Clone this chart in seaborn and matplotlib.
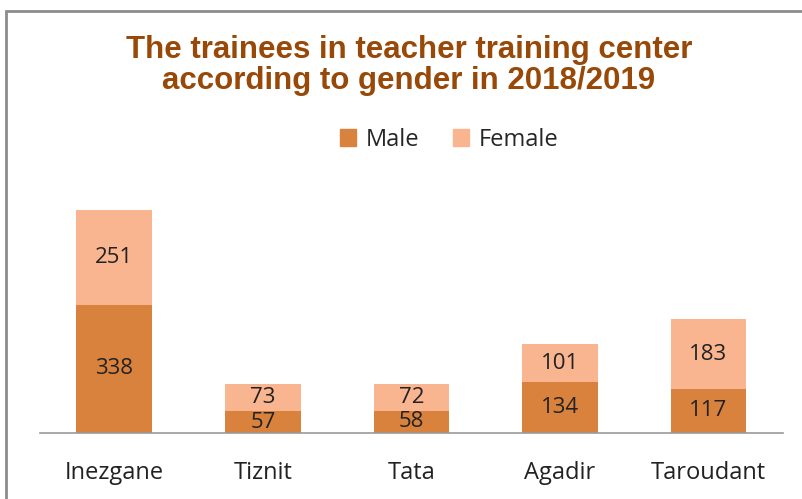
import matplotlib
matplotlib.use("Agg")
import matplotlib.pyplot as plt
import seaborn as sns
import pandas as pd
from matplotlib.patches import Patch, Rectangle

# chart data
centers = ["Inezgane", "Tiznit", "Tata", "Agadir", "Taroudant"]
male = [338, 57, 58, 134, 117]
female = [251, 73, 72, 101, 183]

male_color = "#D9823D"
female_color = "#F9B490"
title_color = "#984807"

df = pd.DataFrame({"center": centers, "Male": male, "Female": female})
df["Total"] = df["Male"] + df["Female"]

sns.set_theme(style="white")
plt.rcParams["font.family"] = ["Open Sans", "DejaVu Sans"]

fig = plt.figure(figsize=(8.02, 4.99), dpi=100)
ax = fig.add_axes([0.05, 0.1323, 0.926, 0.507])

# stacked: total bar in female colour, male bar over it
sns.barplot(data=df, x="center", y="Total", color=female_color, width=0.51,
            saturation=1, linewidth=0, ax=ax)
sns.barplot(data=df, x="center", y="Male", color=male_color, width=0.51,
            saturation=1, linewidth=0, ax=ax)

tot_bars = ax.containers[0]
male_bars = ax.containers[1]
for rect, v in zip(tot_bars, female):
    y0 = rect.get_height() - v
    ax.text(rect.get_x() + rect.get_width() / 2, y0 + v / 2, str(v),
            ha="center", va="center", fontsize=16, color="#222222")
for rect, v in zip(male_bars, male):
    ax.text(rect.get_x() + rect.get_width() / 2, v / 2, str(v),
            ha="center", va="center", fontsize=16, color="#222222")

ax.set_ylim(0, 668)
ax.set_xlim(-0.5, 4.5)
ax.set_xlabel("")
ax.set_ylabel("")
ax.set_yticks([])
ax.tick_params(axis="x", length=0, pad=20, labelsize=17, labelcolor="#222222")
for s in ["top", "left", "right"]:
    ax.spines[s].set_visible(False)
ax.spines["bottom"].set_color("#9a9a9a")
ax.spines["bottom"].set_linewidth(1.2)

fig.text(0.51, 0.868, "The trainees in teacher training center\naccording to gender in 2018/2019",
         ha="center", va="center", fontsize=22.5, fontweight="bold",
         color=title_color, family="Liberation Sans", linespacing=1.05)

handles = [Patch(color=male_color, label="Male"), Patch(color=female_color, label="Female")]
fig.legend(handles=handles, loc="center", bbox_to_anchor=(0.56, 0.72), ncol=2,
           frameon=False, fontsize=17, handlelength=0.7, handleheight=0.7,
           handletextpad=0.4, columnspacing=1.4)

# outer chart frame
fig.patches.append(Rectangle((6 / 802, -0.1), 1.2, 1 - 11 / 499 + 0.1,
                             transform=fig.transFigure, fill=False,
                             edgecolor="#8c8c8c", linewidth=2))

fig.savefig("out.png", dpi=100)
